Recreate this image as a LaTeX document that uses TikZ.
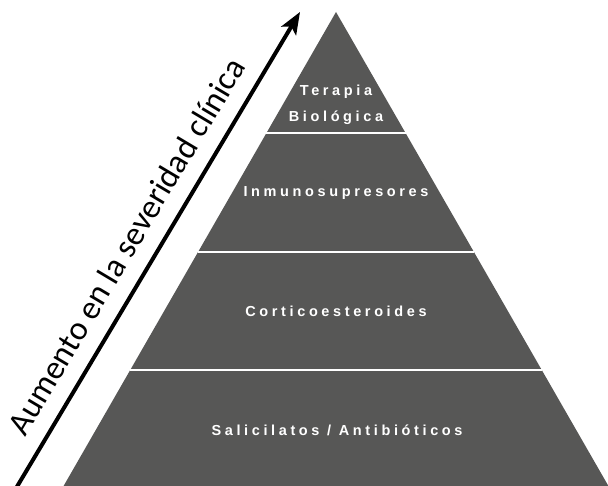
\documentclass[tikz,border=0pt]{standalone}
\usepackage{fontspec}
\setmainfont{Liberation Sans}
\newfontfamily\carlito{Carlito}
\usetikzlibrary{arrows.meta,calc}
\definecolor{pyrgray}{RGB}{87,87,86}
\tikzset{
  lvl/.style={text=white, align=center,
    font=\bfseries\fontsize{14.5}{26}\selectfont\addfontfeature{LetterSpace=25}},
  divline/.style={white, line width=2pt},
}

\begin{document}
\begin{tikzpicture}[x=1pt,y=-1pt]
\useasboundingbox (0,0) rectangle (608,486);
%%%%% Pyramid %%%%%
\coordinate (apex) at (336,12);
\coordinate (bl) at (63,487);
\coordinate (br) at (609,487);
\fill[pyrgray] (apex) -- (bl) -- (br) -- cycle;
%%%%% Dividers %%%%%
\foreach \t in {0.2547,0.5053,0.7537}
  \draw[divline] ($(apex)!\t!(bl)$) -- ($(apex)!\t!(br)$);
%%%%% Levels %%%%%
\node[lvl] (terapia) at (336,105) {Terapia\\Biológica};
\node[lvl] (inmuno) at (336,193) {Inmunosupresores};
\node[lvl] (cortico) at (336,311) {Corticoesteroides};
\node[lvl] (salici) at (337,430) {Salicilatos / Antibióticos};
%%%%% Arrow %%%%%
\coordinate (tail) at (15,490);
\coordinate (head) at (300,12);
\draw[line width=4pt,-{Stealth[length=22pt,width=17pt,inset=5pt]}] (tail) -- (head);
\node[font=\carlito\fontsize{33.5}{38}\selectfont, rotate=59.2, anchor=base] (sevlbl) at (136,252) {Aumento en la severidad clínica};
\end{tikzpicture}
\end{document}
